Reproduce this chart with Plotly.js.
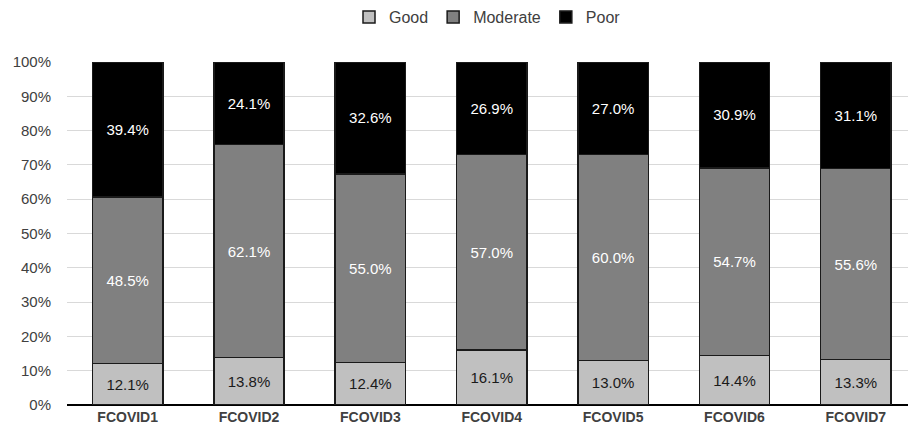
<!DOCTYPE html>
<html><head><meta charset="utf-8">
<script src="https://cdn.plot.ly/plotly-3.0.1.min.js"></script>
<style>html,body{margin:0;padding:0;background:#fff}</style>
</head><body>
<div id="chart" style="width:908px;height:435px"></div>
<script>
const categories = ["FCOVID1","FCOVID2","FCOVID3","FCOVID4","FCOVID5","FCOVID6","FCOVID7"];
const good = [12.1, 13.8, 12.4, 16.1, 13.0, 14.4, 13.3];
const moderate = [48.5, 62.1, 55.0, 57.0, 60.0, 54.7, 55.6];
const poor = [39.4, 24.1, 32.6, 26.9, 27.0, 30.9, 31.1];
const yTicks = [0,10,20,30,40,50,60,70,80,90,100];

const FONT = "Liberation Sans Narrow, Arial Narrow, Liberation Sans, Arial, sans-serif";
function mk(name, vals, color, txtColor){
  return {
    type:'bar', name:name, x:categories, y:vals,
    text: vals.map(v=>v.toFixed(1)+'%'),
    textposition:'inside', insidetextanchor:'middle', textangle:0,
    constraintext:'none',
    textfont:{family:FONT, size:15, color:txtColor},
    marker:{color:color, line:{color:'#1a1a1a', width:1.5}},
    hoverinfo:'skip'
  };
}
const data = [
  mk('Good', good, '#c0c0c0', '#1a1a1a'),
  mk('Moderate', moderate, '#808080', '#ffffff'),
  mk('Poor', poor, '#000000', '#ffffff')
];
const layout = {
  width:908, height:435,
  margin:{l:67, r:0, t:62, b:30},
  barmode:'stack', bargap:0.42,
  paper_bgcolor:'#fff', plot_bgcolor:'#fff',
  font:{family:FONT, size:15, color:'#404040'},
  showlegend:true,
  legend:{orientation:'h', x:0.5, xanchor:'center', y:1.0, yref:'container', yanchor:'top',
          font:{family:FONT, size:16, color:'#404040'}, itemwidth:20, traceorder:'normal'},
  xaxis:{range:[-0.5, 6.43], showgrid:false, showline:false, zeroline:false, ticks:'',
         tickfont:{family:"Liberation Sans, Arial, sans-serif", size:14, color:'#404040', weight:'bold'},
         ticklabelstandoff:2},
  yaxis:{range:[0,100], tickvals:yTicks, ticktext:yTicks.map(v=>v+'%'), showgrid:true, gridcolor:'#d9d9d9', gridwidth:1,
         zeroline:true, zerolinecolor:'#000', zerolinewidth:1.5, showline:false, ticks:'',
         tickfont:{family:FONT, size:15, color:'#404040'}, ticklabelstandoff:15}
};
Plotly.newPlot('chart', data, layout, {displayModeBar:false, staticPlot:true});
</script>
</body></html>
